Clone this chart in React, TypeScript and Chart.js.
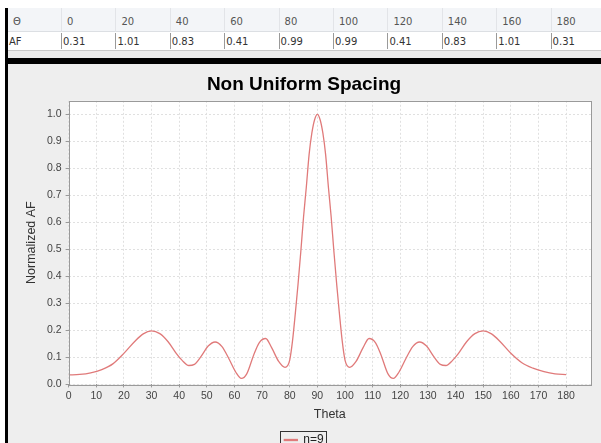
import React, { useEffect, useRef } from 'react';
import { Chart, registerables } from 'chart.js';

Chart.register(...registerables);

// ---- table data ----
const tableRowHeader = ['Θ', 'AF'];
const tableTheta = ['0', '20', '40', '60', '80', '100', '120', '140', '160', '180'];
const tableAF = ['0.31', '1.01', '0.83', '0.41', '0.99', '0.99', '0.41', '0.83', '1.01', '0.31'];

// ---- chart data ----
const chartTitle = 'Non Uniform Spacing';
const xTitle = 'Theta';
const yTitle = 'Normalized AF';
const seriesLabel = 'n=9';

const theta = [
  0, 4, 8, 12, 16, 20, 24, 27, 30, 33,
  36, 39, 41, 43.5, 45.5, 48, 50.5, 53, 55.5, 58,
  60.5, 62.5, 64.5, 67, 69, 71.3, 73.5, 76, 78.3, 80,
  81, 82, 83, 84, 85, 86, 87, 88, 89, 90,
  91, 92, 93, 94, 95, 96, 97, 98, 99, 100,
  101.7, 104, 106.5, 108.7, 111, 113, 115.5, 117.5, 119.5, 122,
  124.5, 127, 129.5, 132, 134.5, 136.5, 139, 141, 144, 147,
  150, 153, 156, 160, 164, 168, 172, 176, 180,
];
const af = [
  0.035, 0.037, 0.043, 0.055, 0.076, 0.115, 0.16, 0.187, 0.198, 0.188,
  0.158, 0.114, 0.09, 0.07, 0.074, 0.105, 0.142, 0.157, 0.14, 0.095,
  0.045, 0.022, 0.04, 0.11, 0.155, 0.17, 0.135, 0.085, 0.063, 0.09,
  0.16, 0.26, 0.37, 0.49, 0.62, 0.73, 0.85, 0.93, 0.98, 1.0,
  0.98, 0.93, 0.85, 0.73, 0.62, 0.49, 0.37, 0.26, 0.16, 0.09,
  0.063, 0.085, 0.135, 0.17, 0.155, 0.11, 0.04, 0.022, 0.045, 0.095,
  0.14, 0.157, 0.142, 0.105, 0.074, 0.07, 0.09, 0.114, 0.158, 0.188,
  0.198, 0.187, 0.16, 0.115, 0.08, 0.06, 0.047, 0.039, 0.036,
];

const xMin = 0;
const xMax = 189;
const yMin = 0;
const yMax = 1.05;

const CANVAS_W = 593;
const CANVAS_H = 400;
const FONT = '"Liberation Sans", Arial, sans-serif';

const framePlugin = {
  id: 'frame',
  beforeDraw(chart: any) {
    const { ctx, chartArea } = chart;
    const { left, top, right, bottom } = chartArea;
    ctx.save();
    ctx.fillStyle = '#ffffff';
    ctx.fillRect(left, top, right - left, bottom - top);
    ctx.restore();
  },
  afterDraw(chart: any) {
    const { ctx, chartArea } = chart;
    const { left, top, right, bottom } = chartArea;
    ctx.save();
    ctx.strokeStyle = '#9a9a9a';
    ctx.lineWidth = 1;
    ctx.strokeRect(Math.round(left) + 0.5, Math.round(top) + 0.5, Math.round(right - left), Math.round(bottom - top));
    const legend = chart.legend;
    if (legend && legend.legendHitBoxes && legend.legendHitBoxes.length) {
      const hb = legend.legendHitBoxes[0];
      ctx.strokeStyle = '#333333';
      ctx.strokeRect(Math.round(hb.left) - 3.5, Math.round(hb.top) - 2.5, Math.round(hb.width) + 7, Math.round(hb.height) + 5);
    }
    ctx.restore();
  },
};

function ChartPanel() {
  const ref = useRef<HTMLCanvasElement | null>(null);
  useEffect(() => {
    if (!ref.current) return;
    const points = theta.map((t, i) => ({ x: t, y: af[i] }));
    const chart = new Chart(ref.current, {
      type: 'line',
      data: {
        datasets: [
          {
            label: seriesLabel,
            data: points,
            borderColor: '#e07a7a',
            backgroundColor: '#e07a7a',
            borderWidth: 1.3,
            pointRadius: 0,
            cubicInterpolationMode: 'monotone',
            fill: false,
          },
        ],
      },
      options: {
        responsive: false,
        animation: false,
        devicePixelRatio: 1,
        layout: { padding: { left: 9, right: 10, top: 0, bottom: 8 } },
        plugins: {
          title: {
            display: true,
            text: chartTitle,
            color: '#000',
            font: { family: FONT, size: 19, weight: 'bold' },
            padding: { top: 9, bottom: 5 },
          },
          legend: {
            display: true,
            position: 'bottom',
            labels: {
              font: { family: FONT, size: 12 },
              color: '#222',
              boxWidth: 13,
              boxHeight: 1,
              padding: 10,
            },
          },
          tooltip: { enabled: false },
        },
        scales: {
          x: {
            type: 'linear',
            min: xMin,
            max: xMax,
            ticks: {
              stepSize: 10,
              includeBounds: false,
              color: '#444',
              font: { family: FONT, size: 10.5 },
              padding: 2,
              maxRotation: 0,
              autoSkip: false,
              callback: (v: any) => String(v),
            },
            grid: { color: '#e0e0e0', tickLength: 3, tickColor: '#999', tickBorderDash: [] },
            border: { display: false, dash: [2, 2] },
            title: {
              display: true,
              text: xTitle,
              color: '#333',
              font: { family: FONT, size: 12.5 },
              padding: { top: 3, bottom: 2 },
            },
          },
          y: {
            type: 'linear',
            min: yMin,
            max: yMax,
            ticks: {
              stepSize: 0.1,
              includeBounds: false,
              color: '#444',
              font: { family: FONT, size: 10.5 },
              padding: 4,
              callback: (v: any) => Number(v).toFixed(1),
            },
            grid: { color: '#e0e0e0', tickLength: 3, tickColor: '#999', tickBorderDash: [] },
            border: { display: false, dash: [2, 2] },
            title: {
              display: true,
              text: yTitle,
              color: '#333',
              font: { family: FONT, size: 12.5 },
              padding: { top: 7, bottom: 4 },
            },
          },
        },
      },
      plugins: [framePlugin],
    } as any);
    return () => chart.destroy();
  }, []);
  return <canvas ref={ref} width={CANVAS_W} height={CANVAS_H} style={{ display: 'block', width: CANVAS_W, height: CANVAS_H }} />;
}

export default function App() {
  const colLeft = (i: number) => (i === 0 ? 8 : 61 + (i - 1) * 54.4);
  const cols = [tableRowHeader, ...tableTheta.map((t, i) => [t, tableAF[i]])];
  return (
    <div
      style={{
        position: 'fixed',
        left: 0,
        top: 0,
        width: 601,
        height: 443,
        overflow: 'hidden',
        background: '#ffffff',
        fontFamily: '"DejaVu Sans", Tahoma, sans-serif',
      }}
    >
      {/* header row background */}
      <div style={{ position: 'absolute', left: 8, top: 8, width: 593, height: 24, background: '#f3f5f8', borderBottom: '1px solid #dcdfe3', boxSizing: 'border-box' }} />
      {/* lower strip */}
      <div style={{ position: 'absolute', left: 8, top: 50, width: 593, height: 9, background: '#ebebeb', borderTop: '1px solid #c8c8c8', boxSizing: 'border-box' }} />
      {/* black bar */}
      <div style={{ position: 'absolute', left: 5, top: 58, width: 596, height: 6, background: '#000' }} />
      {cols.map((c, i) => {
        const left = colLeft(i);
        return (
          <React.Fragment key={i}>
            {i > 0 && (
              <div style={{ position: 'absolute', left, top: 8, width: 1, height: 24, background: '#e2e4e8' }} />
            )}
            {i > 0 && (
              <div style={{ position: 'absolute', left, top: 33, width: 1, height: 16, background: '#9a9a9a' }} />
            )}
            <div
              style={{
                position: 'absolute',
                left: left + (i === 0 ? 5 : 6),
                top: 15,
                fontSize: 10,
                lineHeight: '14px',
                color: '#555',
                whiteSpace: 'nowrap',
              }}
            >
              {c[0]}
            </div>
            <div
              style={{
                position: 'absolute',
                left: left + (i === 0 ? 1 : 2),
                top: 35,
                fontSize: 10,
                lineHeight: '14px',
                color: '#333',
                whiteSpace: 'nowrap',
              }}
            >
              {c[1]}
            </div>
          </React.Fragment>
        );
      })}
      {/* left black border */}
      <div style={{ position: 'absolute', left: 5, top: 8, width: 3, height: 435, background: '#000' }} />
      {/* chart panel */}
      <div style={{ position: 'absolute', left: 8, top: 64, width: 593, height: 379, background: '#eeeeee', overflow: 'hidden' }}>
        <ChartPanel />
      </div>
    </div>
  );
}
